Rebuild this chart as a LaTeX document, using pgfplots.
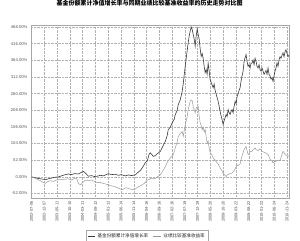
\documentclass[border=0pt]{standalone}
\usepackage{pgfplots}
\pgfplotsset{compat=1.18}
\usepackage{fontspec}
\setmainfont{Liberation Sans}
\newfontfamily\cjk{Noto Sans CJK SC}
\definecolor{darkl}{HTML}{3A3A3A}
\definecolor{lightl}{HTML}{9A9A9A}
\begin{document}
\begin{tikzpicture}
\useasboundingbox (-31pt,-43pt) rectangle (269pt,198pt);
\begin{axis}[
  at={(0pt,0pt)}, anchor=south west,
  scale only axis, width=258pt, height=173pt,
  xmin=30.5, xmax=289, ymin=-66, ymax=474,
  axis line style={draw=gray!70, line width=0.8pt},
  grid=major, grid style={densely dotted, gray!60, line width=0.3pt},
  xtick={31,43.8,56.6,69.4,82.2,95,107.8,120.6,133.4,146.2,159,171.8,184.6,197.4,210.2,223,235.8,248.6,261.4,274.2,287},
  xticklabels={2002-07-06,2002-12-07,2003-05-11,2003-10-10,2004-03-11,2004-08-12,2005-01-12,2005-06-14,2005-11-14,2006-04-16,2006-09-16,2007-02-16,2007-07-19,2007-12-19,2008-05-20,2008-10-20,2009-03-22,2009-08-22,2010-01-22,2010-06-24,2010-11-24},
  xticklabel style={rotate=90, anchor=east, font=\fontsize{4}{4}\selectfont, text=gray!60!black},
  ytick={-52,0,52,104,156,208,260,312,364,416,468},
  yticklabels={-52.00\%,0.00\%,52.00\%,104.00\%,156.00\%,208.00\%,260.00\%,312.00\%,364.00\%,416.00\%,468.00\%},
  yticklabel style={font=\fontsize{4.2}{5}\selectfont, text=gray!70!black},
  tick style={draw=none},
  title={\cjk\bfseries\fontsize{6.0}{7}\selectfont 基金份额累计净值增长率与同期业绩比较基准收益率的历史走势对比图},
  title style={at={(0.46,1)}, anchor=south, yshift=9pt},
  legend columns=2,
  legend style={at={(0.45,-0.22)}, anchor=center, draw=gray!70, font=\cjk\fontsize{4.6}{5}\selectfont, text=gray!30!black, inner sep=1pt, /tikz/every even column/.append style={column sep=3pt}},
  legend image post style={xscale=0.45},
]
\addplot[darkl, line width=0.6pt] coordinates {
(31,0)(34,-2)(38,-5)(42,-7)(45,-9)(48,-6)(52,-3)(55,-1)(58,0)(61,3)(64,6)(68,9)(71,7)(74,10)(78,9)(81,14)(83,17)(85,12)(88,2)(91,4)(94,1)(97,2)(100,5)(103,3)(105,6)(108,10)(111,7)(115,8)(118,5)(121,7)(125,3)(128,6)(131,4)(135,6)(137,12)(140,20)(142,28)(145,44)(147,50)(149,72)(150,75)(152,68)(153,64)(155,66)(157,72)(160,79)(162,92)(165,110)(167,130)(168,147)(170,155)(172,169)(174,180)(175,194)(177,208)(178,225)(180,240)(182,267)(183,290)(185,345)(186,370)(188,419)(189,440)(190,455)(191,468)(192,460)(193,445)(194,430)(195,408)(196,440)(197,462)(198,445)(199,430)(200,400)(201,376)(202,385)(203,370)(204,345)(205,325)(206,335)(207,320)(208,355)(209,330)(210,304)(211,295)(213,278)(214,290)(215,270)(216,258)(218,236)(219,220)(220,204)(221,190)(222,178)(223,163)(224,175)(225,185)(226,195)(227,188)(228,210)(229,200)(230,195)(231,205)(232,210)(233,200)(234,220)(235,236)(236,228)(237,251)(238,260)(239,270)(240,278)(241,300)(242,315)(243,330)(244,360)(245,372)(246,382)(247,360)(248,345)(249,350)(250,340)(251,355)(252,355)(253,365)(254,350)(255,370)(256,360)(257,345)(258,340)(259,350)(260,335)(261,330)(262,340)(263,330)(264,320)(265,325)(266,332)(267,320)(268,340)(269,320)(270,315)(271,305)(272,310)(273,298)(274,315)(275,330)(276,340)(277,356)(278,345)(279,365)(280,375)(281,370)(282,380)(283,387)(284,375)(285,390)(286,397)(287,385)(288,375)(289,380)
};
\addlegendentry{基金份额累计净值增长率}
\addplot[lightl, line width=0.5pt] coordinates {
(31,0)(34,-3)(37,-8)(40,-12)(43,-18)(45,-20)(47,-15)(50,-12)(53,-14)(56,-10)(59,-8)(62,-9)(65,-7)(68,-6)(71,-10)(74,-5)(76,-4)(78,-20)(80,-25)(82,-18)(85,-10)(88,-12)(91,-10)(94,-14)(97,-18)(100,-17)(102,-20)(105,-22)(108,-25)(111,-28)(114,-30)(117,-34)(120,-38)(122,-40)(124,-36)(126,-34)(128,-36)(130,-38)(133,-40)(135,-38)(137,-33)(140,-28)(142,-25)(144,-20)(147,-10)(149,-8)(151,-4)(153,-6)(155,-5)(157,0)(160,6)(162,15)(165,32)(167,45)(170,59)(172,65)(173,69)(175,90)(177,110)(178,126)(180,135)(182,142)(183,126)(185,160)(187,189)(188,210)(190,236)(191,240)(192,238)(193,220)(194,210)(195,200)(196,215)(198,220)(199,190)(200,169)(201,160)(202,147)(203,155)(204,140)(205,148)(206,125)(207,106)(208,112)(209,90)(210,75)(212,68)(213,59)(215,52)(217,44)(218,40)(220,28)(222,18)(223,12)(224,8)(226,1)(227,5)(228,8)(230,10)(232,12)(233,15)(235,25)(237,37)(238,35)(240,40)(241,55)(243,75)(244,85)(246,95)(247,82)(248,69)(249,72)(250,78)(252,80)(253,85)(255,90)(256,85)(258,82)(260,88)(262,80)(263,78)(265,76)(267,72)(268,70)(270,55)(272,50)(273,44)(275,48)(277,50)(279,52)(280,50)(282,70)(283,80)(284,75)(285,70)(287,65)(288,66)(289,65)
};
\addlegendentry{业绩比较基准收益率}
\end{axis}
\end{tikzpicture}
\end{document}
